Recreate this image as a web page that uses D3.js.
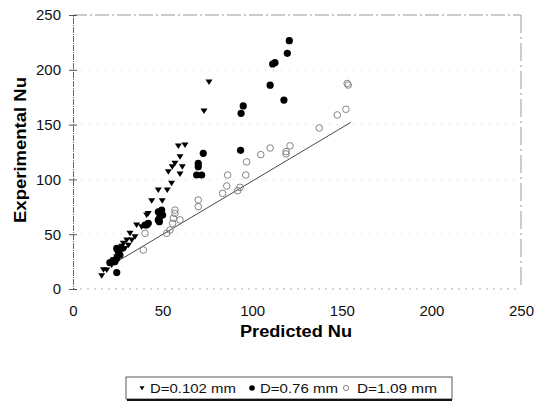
<!DOCTYPE html>
<html>
<head>
<meta charset="utf-8">
<script src="https://cdn.jsdelivr.net/npm/d3@7"></script>
<style>
  body { margin: 0; background: #fff; }
  svg { display: block; font-family: "Liberation Sans", Arial, sans-serif; }
</style>
</head>
<body>
<div id="chart"></div>
<script>
// D=0.102 mm (triangles)
const tri = [
    [16, 12], [17, 17.5], [18.8, 17.3], [21.6, 22], [22.5, 26.5], [23, 24], [24.4, 29.5],
    [27.2, 39], [28.1, 41.7], [29, 37], [30, 44.7], [30.9, 40], [31.8, 50.8], [32.8, 44.7],
    [34.6, 47.7], [35.5, 58.4], [38.3, 56.8], [41.1, 67.5], [42, 69], [43.9, 80.6],
    [47.6, 90.3], [49.8, 80.6], [52.6, 90.3], [55, 96.4], [53.2, 107], [55.4, 111.6],
    [56.9, 114.7], [59.7, 105], [59.7, 120.7], [61, 111.6], [58.8, 130.5], [62.5, 131.4],
    [73.1, 162.4], [75.9, 188.9]
];
// D=0.76 mm (filled circles)
const filled = [
    [24.4, 15], [20.6, 24], [22.5, 26], [23.4, 25], [24.4, 28], [26.2, 31], [25.3, 34],
    [25.3, 35.6], [27.2, 37.1], [24.4, 37], [40.2, 58.4], [41.1, 58.4], [42, 59.9],
    [47.6, 63], [48.2, 61.4], [48.5, 66], [49.5, 72], [47.6, 70.5], [50, 67.5],
    [69, 104], [71.8, 104], [69.9, 111.6], [69.9, 114.7], [72.7, 123.8], [93.5, 126.5],
    [93.8, 160.3], [95, 167], [110, 186], [111.4, 205.3], [112.7, 206.5], [117.7, 172.4],
    [119.6, 215], [120.7, 226.6]
];
// D=1.09 mm (open circles)
const open = [
    [39.2, 35.6], [40.2, 50.8], [52.3, 50.8], [54.1, 53.8], [55.6, 59.9], [56, 64.5],
    [56.9, 69], [56.9, 72], [59.7, 63], [69.9, 75.1], [69.9, 81.2], [83.5, 87.3],
    [85.8, 94], [86.3, 104], [91.9, 89.7], [93.2, 92.8], [96.4, 104], [96.9, 116],
    [104.8, 122.6], [110, 128.6], [118.9, 123.2], [118.9, 125.3], [121.1, 130.6],
    [137.4, 146.9], [147.5, 158.8], [152.3, 164], [153.6, 186.1], [153, 187.5]
];
// correlation line
const fitLine = [[21, 21.5], [155, 152]];

const ticks = [0, 50, 100, 150, 200, 250];
const legendLabels = ["D=0.102 mm", "D=0.76 mm", "D=1.09 mm"];

const width = 537, height = 406;

const svg = d3.select("#chart").append("svg")
    .attr("width", width)
    .attr("height", height);

const x = d3.scaleLinear().domain([0, 250]).range([73, 521]);
const y = d3.scaleLinear().domain([0, 250]).range([289, 15]);

// faint dotted grid / frame
svg.append("g")
    .selectAll("line")
    .data(ticks.slice(1))
    .join("line")
    .attr("x1", x(0)).attr("x2", x(250))
    .attr("y1", d => y(d)).attr("y2", d => y(d))
    .attr("stroke", d => d == 250 ? "#999" : "#ccc")
    .attr("stroke-dasharray", d => d == 250 ? "14,3,2,3" : "1,7");

svg.append("line")
    .attr("x1", x(250)).attr("x2", x(250))
    .attr("y1", y(250)).attr("y2", y(0))
    .attr("stroke", "#999")
    .attr("stroke-dasharray", "18,4,2,4");

svg.append("line")
    .attr("x1", x(0)).attr("x2", x(250))
    .attr("y1", y(0)).attr("y2", y(0))
    .attr("stroke", "#aaa")
    .attr("stroke-dasharray", "2,5");

// axes
function yAxis(g) {
    g.attr("transform", `translate(${x(0)},0)`)
        .call(d3.axisLeft(y).tickValues(ticks).tickSize(4).tickPadding(8))
        .call(g => g.select(".domain").attr("stroke", "#666").attr("stroke-dasharray", "6,1,1,1"))
        .call(g => g.selectAll(".tick line").attr("x2", 4).attr("x1", -4).attr("stroke", "#555"))
        .call(g => g.selectAll("text").attr("font-size", "15px").attr("fill", "#111"));
}

function xAxis(g) {
    g.attr("transform", `translate(0,${y(0)})`)
        .call(d3.axisBottom(x).tickValues(ticks).tickSize(0).tickPadding(16))
        .call(g => g.select(".domain").remove())
        .call(g => g.selectAll("text").attr("font-size", "15px").attr("fill", "#111"));
}

svg.append("g").call(yAxis);
svg.append("g").call(xAxis);

// axis titles
svg.append("text")
    .attr("x", 296).attr("y", 337)
    .attr("text-anchor", "middle")
    .attr("font-size", "16px").attr("font-weight", "bold")
    .attr("textLength", 112).attr("lengthAdjust", "spacingAndGlyphs")
    .text("Predicted Nu");

svg.append("text")
    .attr("transform", "translate(26,150) rotate(-90)")
    .attr("text-anchor", "middle")
    .attr("font-size", "16px").attr("font-weight", "bold")
    .attr("textLength", 146).attr("lengthAdjust", "spacingAndGlyphs")
    .text("Experimental Nu");

// fit line
svg.append("path")
    .datum(fitLine)
    .attr("fill", "none")
    .attr("stroke", "#333")
    .attr("stroke-width", 0.9)
    .attr("d", d3.line().x(d => x(d[0])).y(d => y(d[1])));

const triPath = "M-3.5,-2.5L3.5,-2.5L0,3z";

// markers
svg.append("g")
    .selectAll("circle")
    .data(open)
    .join("circle")
    .attr("cx", d => x(d[0])).attr("cy", d => y(d[1]))
    .attr("r", 3.3)
    .attr("fill", "none")
    .attr("stroke", "#777")
    .attr("stroke-width", 0.9);

svg.append("g")
    .selectAll("circle")
    .data(filled)
    .join("circle")
    .attr("cx", d => x(d[0])).attr("cy", d => y(d[1]))
    .attr("r", 3.6)
    .attr("fill", "#000");

svg.append("g")
    .selectAll("path")
    .data(tri)
    .join("path")
    .attr("transform", d => `translate(${x(d[0])},${y(d[1])})`)
    .attr("d", triPath)
    .attr("fill", "#000");

// legend
const legend = svg.append("g");
legend.append("rect")
    .attr("x", 126).attr("y", 377)
    .attr("width", 326).attr("height", 22)
    .attr("fill", "#fff")
    .attr("stroke", "#333").attr("stroke-width", 0.8);
legend.append("line")
    .attr("x1", 127).attr("x2", 452)
    .attr("y1", 400).attr("y2", 400)
    .attr("stroke", "#111").attr("stroke-width", 2);

const legendX = [142, 252, 346];
legend.append("path")
    .attr("transform", `translate(${legendX[0]},388)`)
    .attr("d", "M-2.5,-1.8L2.5,-1.8L0,2.2z")
    .attr("fill", "#000");
legend.append("circle")
    .attr("cx", legendX[1]).attr("cy", 388).attr("r", 2.8)
    .attr("fill", "#000");
legend.append("circle")
    .attr("cx", legendX[2]).attr("cy", 388).attr("r", 2.6)
    .attr("fill", "none").attr("stroke", "#777").attr("stroke-width", 0.9);

legend.selectAll("text.lbl")
    .data(legendLabels)
    .join("text")
    .attr("class", "lbl")
    .attr("x", (d, i) => legendX[i] + (i == 2 ? 11 : 8))
    .attr("y", 393)
    .attr("font-size", "12.5px")
    .attr("fill", "#111")
    .attr("textLength", (d, i) => [86, 78, 80][i])
    .attr("lengthAdjust", "spacingAndGlyphs")
    .text(d => d);
</script>
</body>
</html>
